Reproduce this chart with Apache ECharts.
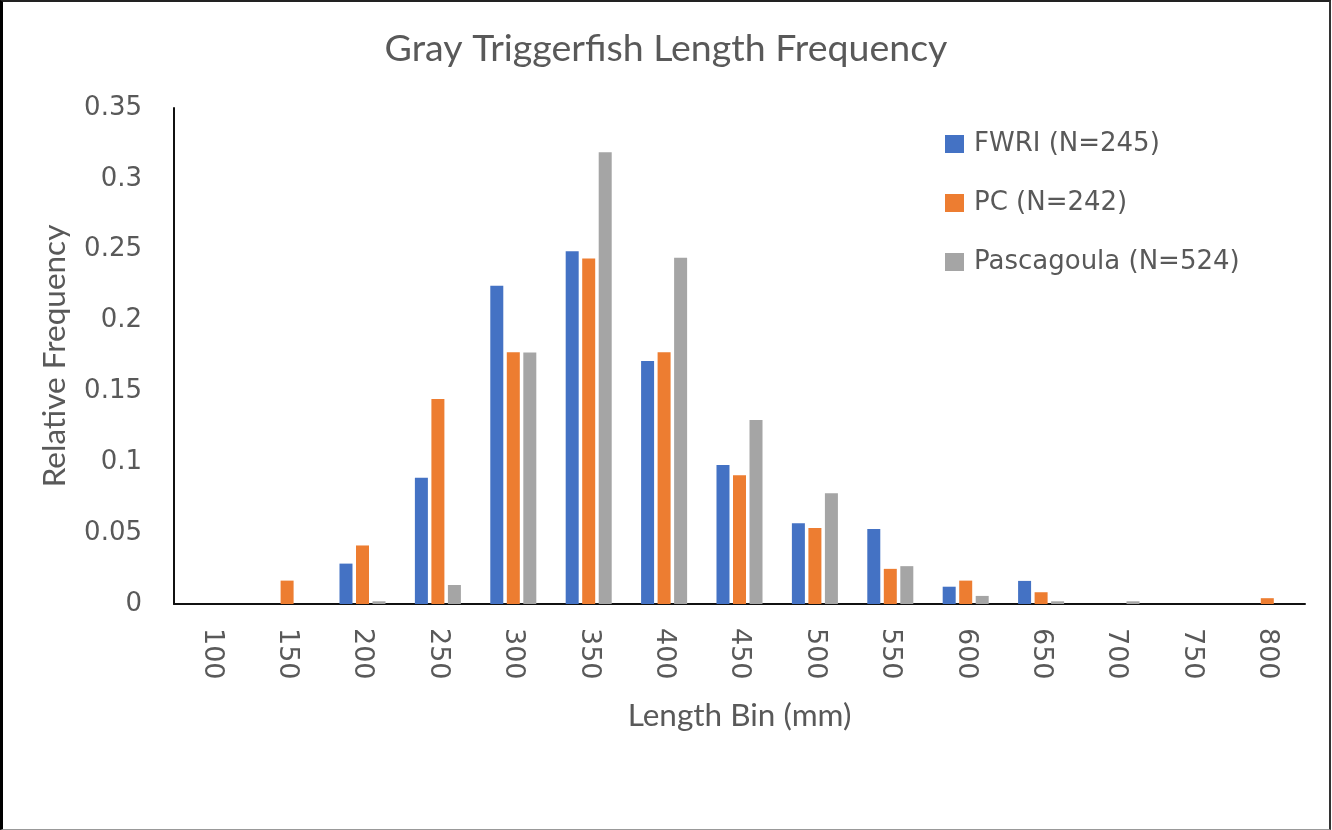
<!DOCTYPE html>
<html>
<head>
<meta charset="utf-8">
<script src="https://cdn.jsdelivr.net/npm/echarts@6/dist/echarts.min.js"></script>
<style>
  html, body { margin: 0; padding: 0; background: #fff; }
  #wrap { position: relative; width: 1332px; height: 830px; }
  #chart { position: absolute; left: 0; top: 0; width: 1332px; height: 830px; }
  #frame { position: absolute; left: 0; top: 0; width: 1326px; height: 827px;
           border-left: 3px solid #000; border-top: 2px solid #222;
           border-right: 2px solid #333; border-bottom: 1px solid #999; pointer-events: none; }
</style>
</head>
<body>
<div id="wrap"><div id="chart"></div><div id="frame"></div></div>
<script>
const titleText = 'Gray Triggerfish Length Frequency';
const xAxisName = 'Length Bin (mm)';
const yAxisName = 'Relative Frequency';
const categories = ['100','150','200','250','300','350','400','450','500','550','600','650','700','750','800'];
const seriesNames = ['FWRI (N=245)', 'PC (N=242)', 'Pascagoula (N=524)'];
const fwri       = [0, 0,      0.0285, 0.089,  0.2245, 0.249,  0.1715, 0.098,  0.057,  0.053,  0.0122, 0.0163, 0,      0, 0];
const pc         = [0, 0.0165, 0.0413, 0.1446, 0.1777, 0.2438, 0.1777, 0.0909, 0.0537, 0.0248, 0.0165, 0.0083, 0,      0, 0.0041];
const pascagoula = [0, 0,      0.0019, 0.0134, 0.1775, 0.3187, 0.2443, 0.1298, 0.0782, 0.0267, 0.0057, 0.0019, 0.0019, 0, 0];
const colors = ['#4472C4', '#ED7D31', '#A5A5A5'];

const chart = echarts.init(document.getElementById('chart'), null, { renderer: 'canvas' });
const textColor = '#595959';
const tickFont = 'DejaVu Sans';
const nameFont = 'Lato';

const seriesData = [fwri, pc, pascagoula];
const option = {
  animation: false,
  backgroundColor: '#fff',
  color: colors,
  title: {
    text: titleText,
    left: 'center',
    top: 25,
    textStyle: { fontFamily: nameFont, fontSize: 37.5, fontWeight: 'normal', color: textColor }
  },
  legend: {
    orient: 'vertical',
    left: 940,
    top: 126,
    itemWidth: 19,
    itemHeight: 18,
    itemGap: 33,
    icon: 'rect',
    data: seriesNames,
    textStyle: { fontFamily: tickFont, fontSize: 26, color: textColor, lineHeight: 26, padding: [0, 0, 0, 5] }
  },
  grid: { left: 174, right: 27, top: 108, bottom: 226, containLabel: false },
  xAxis: {
    type: 'category',
    data: categories,
    name: xAxisName,
    nameLocation: 'middle',
    nameGap: 96,
    nameTextStyle: { fontFamily: nameFont, fontSize: 31.5, color: textColor },
    axisLine: { lineStyle: { color: '#111', width: 2 } },
    axisTick: { show: false },
    axisLabel: { rotate: -90, margin: 24, fontFamily: tickFont, fontSize: 27, color: textColor }
  },
  yAxis: {
    type: 'value',
    min: 0,
    max: 0.35,
    interval: 0.05,
    name: yAxisName,
    nameLocation: 'middle',
    nameGap: 103,
    nameTextStyle: { fontFamily: nameFont, fontSize: 31.5, color: textColor },
    axisLine: { show: true, lineStyle: { color: '#111', width: 2 } },
    axisTick: { show: false },
    splitLine: { show: false },
    axisLabel: { margin: 32, fontFamily: tickFont, fontSize: 26, color: textColor }
  },
  series: seriesNames.map((n, i) => ({
    name: n,
    type: 'bar',
    data: seriesData[i],
    barWidth: 13,
    barGap: '27%',
    itemStyle: { color: colors[i] }
  }))
};
chart.setOption(option);
</script>
</body>
</html>
